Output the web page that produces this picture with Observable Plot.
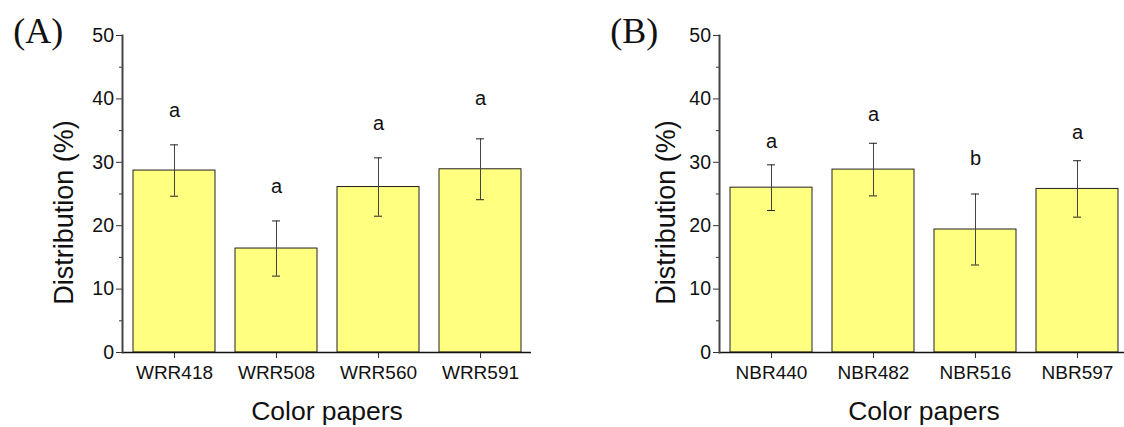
<!DOCTYPE html>
<html>
<head>
<meta charset="utf-8">
<script src="https://cdn.jsdelivr.net/npm/d3@7"></script>
<script src="https://cdn.jsdelivr.net/npm/@observablehq/plot@0.6"></script>
<style>
  html, body { margin: 0; padding: 0; background: #fff; }
  #wrap { display: flex; width: 1124px; height: 427px; overflow: hidden; }
  #wrap svg { flex: none; }
</style>
</head>
<body>
<div id="wrap"></div>
<script>
// ---- data ----
const catsA = ["WRR418", "WRR508", "WRR560", "WRR591"];
const meansA = [28.7, 16.4, 26.1, 28.9];
const errsA = [4.05, 4.35, 4.6, 4.8];
const lettersA = ["a", "a", "a", "a"];
const letterPosA = [37.2, 25.1, 35.1, 39.0];

const catsB = ["NBR440", "NBR482", "NBR516", "NBR597"];
const meansB = [26.0, 28.85, 19.4, 25.8];
const errsB = [3.6, 4.15, 5.6, 4.45];
const lettersB = ["a", "a", "b", "a"];
const letterPosB = [32.2, 36.5, 29.5, 33.6];

const yTicks = [0, 10, 20, 30, 40, 50];
const yMinorTicks = [5, 15, 25, 35, 45];
const xTitle = "Color papers";
const yTitle = "Distribution (%)";

const sans = "'Liberation Sans', Arial, Helvetica, sans-serif";

function panel({cats, means, errs, letters, letterPos, label, width, marginLeft, marginRight, yLabelDx}) {
  const rows = cats.map((c, i) => ({cat: c, mean: means[i], err: errs[i], letter: letters[i], pos: letterPos[i]}));
  return Plot.plot({
    width, height: 427,
    marginLeft, marginRight, marginTop: 35, marginBottom: 75,
    style: {fontFamily: sans, overflow: "visible", background: "white", color: "#111"},
    x: {domain: cats, paddingInner: 0.2, paddingOuter: 0.1, label: null},
    y: {domain: [0, 50], label: null},
    marks: [
      Plot.barY(rows, {x: "cat", y: "mean", fill: "#ffff80", stroke: "#222", strokeWidth: 1}),
      Plot.ruleX(rows, {x: "cat", y1: d => d.mean - d.err, y2: d => d.mean + d.err, stroke: "#444", strokeWidth: 1}),
      Plot.tickY(rows, {x: "cat", y: d => d.mean + d.err, insetLeft: 37, insetRight: 37, stroke: "#222", strokeWidth: 1}),
      Plot.tickY(rows, {x: "cat", y: d => d.mean - d.err, insetLeft: 37, insetRight: 37, stroke: "#222", strokeWidth: 1}),
      Plot.text(rows, {x: "cat", y: "pos", text: "letter", lineAnchor: "bottom", fontSize: 20, fill: "#111"}),
      Plot.axisY({ticks: yTicks, tickSize: 6, tickPadding: 2.5, fontSize: 19.5, label: null, stroke: "#333"}),
      Plot.axisY({ticks: yMinorTicks, tickSize: 3, text: null, label: null, stroke: "#333"}),
      Plot.axisX({tickSize: 6, tickPadding: 7, fontSize: 19, label: null, stroke: "#333"}),
      Plot.ruleY([0], {stroke: "#111", strokeWidth: 1.5}),
      Plot.frame({anchor: "left", stroke: "#444", strokeWidth: 2}),
      Plot.text([xTitle], {text: d => d, frameAnchor: "bottom", textAnchor: "middle", dy: 67, lineAnchor: "bottom", fontSize: 26.5, fill: "#111"}),
      Plot.text([yTitle], {text: d => d, frameAnchor: "left", textAnchor: "middle", rotate: -90, dx: yLabelDx, dy: 18.5, lineAnchor: "bottom", fontSize: 27, fill: "#111"}),
      Plot.text([label], {text: d => d, frameAnchor: "top-left", dx: -109.3, dy: 7, textAnchor: "start", lineAnchor: "bottom", fontSize: 36, fontFamily: "'Liberation Serif', 'Times New Roman', serif", fill: "#111"})
    ]
  });
}

const wrap = document.getElementById("wrap");
wrap.append(panel({cats: catsA, means: meansA, errs: errsA, letters: lettersA, letterPos: letterPosA, label: "(A)", width: 562, marginLeft: 122, marginRight: 31, yLabelDx: -50}));
wrap.append(panel({cats: catsB, means: meansB, errs: errsB, letters: lettersB, letterPos: letterPosB, label: "(B)", width: 562, marginLeft: 157, marginRight: -4, yLabelDx: -44.5}));
</script>
</body>
</html>
